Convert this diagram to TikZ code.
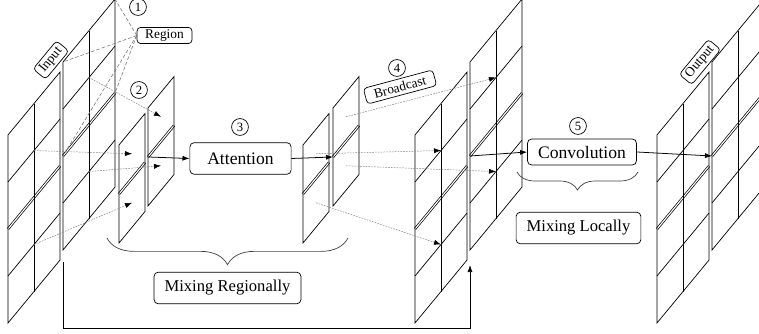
\documentclass[tikz,border=0pt]{standalone}
\usepackage{fontspec}
\setmainfont{Liberation Serif}
\usetikzlibrary{arrows.meta,decorations.pathreplacing}

% one sheared slice of a feature map: 2 x 4 cells, regions split by a double line
\newcommand{\bigpanel}[3]{%
  \begin{scope}[shift={(#2,#3)},yslant=1.21]
    \draw[gridline,double,double distance=0.8pt] (0,94) -- (52,94);
    \draw[gridline] (0,0) rectangle (52,188);
    \draw[gridline] (26,0) -- (26,188);
    \draw[gridline] (0,47) -- (52,47);
    \draw[gridline] (0,141) -- (52,141);
    \coordinate (#1-bl) at (0,0);
    \coordinate (#1-mid) at (0,94);
    \coordinate (#1-top) at (26,141);
    \coordinate (#1-bot) at (26,47);
    \coordinate (#1-c1) at (0,188);
    \coordinate (#1-c2) at (52,188);
    \coordinate (#1-c3) at (52,94);
  \end{scope}}

% one sheared slice of the region tokens: 1 x 2 cells
\newcommand{\smallpanel}[3]{%
  \begin{scope}[shift={(#2,#3)},yslant=1.21]
    \draw[gridline,double,double distance=0.8pt] (0,49) -- (26,49);
    \draw[gridline] (0,0) rectangle (26,98);
    \coordinate (#1-mid) at (0,49);
    \coordinate (#1-top) at (13,73.5);
    \coordinate (#1-bot) at (13,24.5);
  \end{scope}}

\begin{document}
\begin{tikzpicture}
		[x=0.025cm,y=0.025cm,
		gridline/.style={line width=0.5pt,black},
		opbox/.style={draw,rounded corners=3pt,line width=0.5pt,inner xsep=7.5pt,inner ysep=0pt,
minimum height=22.5pt,font=\fontsize{12.5}{14}\selectfont},
		mixbox/.style={opbox,font=\fontsize{11.8}{14}\selectfont},
		tagbox/.style={draw,rounded corners=2.5pt,line width=0.5pt,inner xsep=3pt,inner ysep=0pt,
minimum height=11.5pt,font=\fontsize{9.5}{10}\selectfont},
		stepnum/.style={circle,draw,line width=0.5pt,inner sep=0pt,minimum size=12pt,
font=\fontsize{9}{9}\selectfont},
		flow/.style={-{Latex[length=5pt,width=3.6pt]},line width=0.55pt},
		spread/.style={-{Latex[length=5pt,width=3.6pt,black]},gray,line width=0.35pt,
dash pattern=on 1.2pt off 0.8pt},
		regionline/.style={black!55,line width=0.4pt,dash pattern=on 2.5pt off 1.5pt},
		bracestyle/.style={decorate,line width=0.5pt,black!75}]
		\useasboundingbox (0,0) rectangle (759,334);
		\clip (0,0) rectangle (759,334);

		% feature maps
		\bigpanel{inf}{8}{11}
		\bigpanel{inb}{63}{84}
		\smallpanel{raf}{119}{91}
		\smallpanel{rab}{148}{128}
		\smallpanel{rbf}{303}{91}
		\smallpanel{rbb}{333}{128}
		\bigpanel{bcf}{415}{11}
		\bigpanel{bcb}{470}{84}
		\bigpanel{otf}{657}{11}
		\bigpanel{otb}{712}{84}

		% labels
		\node at (51,274) (input) [tagbox,rotate=50.4] {Input};
		\node at (700,272) (output) [tagbox,rotate=50.4] {Output};
		\node at (164.5,298.5) (region) [tagbox,minimum width=39pt] {Region};
		\node at (400,247) (broadcast) [tagbox,rotate=15,minimum width=51pt] {Broadcast};
		\node at (240.5,175.5) (attention) [opbox,minimum width=72pt] {Attention};
		\node at (582,182) (conv) [opbox,minimum height=18.5pt] {Convolution};
		\node at (227.5,46) (mixreg) [mixbox] {Mixing Regionally};
		\node at (578.5,106) (mixloc) [mixbox] {Mixing Locally};
		\node at (138,327) (s1) [stepnum] {1};
		\node at (139,244) (s2) [stepnum] {2};
		\node at (240,207) (s3) [stepnum] {3};
		\node at (397,266) (s4) [stepnum] {4};
		\node at (578,208) (s5) [stepnum] {5};

		% region pyramid
		\draw[regionline] (region.west) -- (inb-c1);
		\draw[regionline] (region.west) -- (inb-c2);
		\draw[regionline] (region.west) -- (inb-c3);
		\draw[regionline] (region.west) -- (inb-mid);

		% pooling into region tokens
		\draw[spread] (inb-top) -- (rab-top);
		\draw[spread] (inf-top) -- (raf-top);
		\draw[spread] (inb-bot) -- (rab-bot);
		\draw[spread] (inf-bot) -- (raf-bot);

		% broadcast back
		\draw[spread] (rbb-top) -- (bcb-top);
		\draw[spread] (rbf-top) -- (bcf-top);
		\draw[spread] (rbb-bot) -- (bcb-bot);
		\draw[spread] (rbf-bot) -- (bcf-bot);

		% main flow
		\draw[flow] (rab-mid) -- (attention.west);
		\draw[flow] (attention.east) -- (rbb-mid);
		\draw[flow] (bcb-mid) -- (conv.west);
		\draw[flow] (conv.east) -- (otb-mid);
		\draw[flow] ([shift={(0,-12)}]inb-bl) -- ([shift={(0,-78)}]inb-bl) -| ([shift={(0,-15)}]bcb-bl);

		% braces
		\coordinate (brA) at (107,96);
		\coordinate (brB) at (348,96);
		\coordinate (brC) at (517,162);
		\coordinate (brD) at (638,162);
		\draw[bracestyle,decoration={brace,mirror,amplitude=19pt}] (brA) -- (brB);
		\draw[bracestyle,decoration={brace,mirror,amplitude=12.8pt}] (brC) -- (brD);
	\end{tikzpicture}
\end{document}
